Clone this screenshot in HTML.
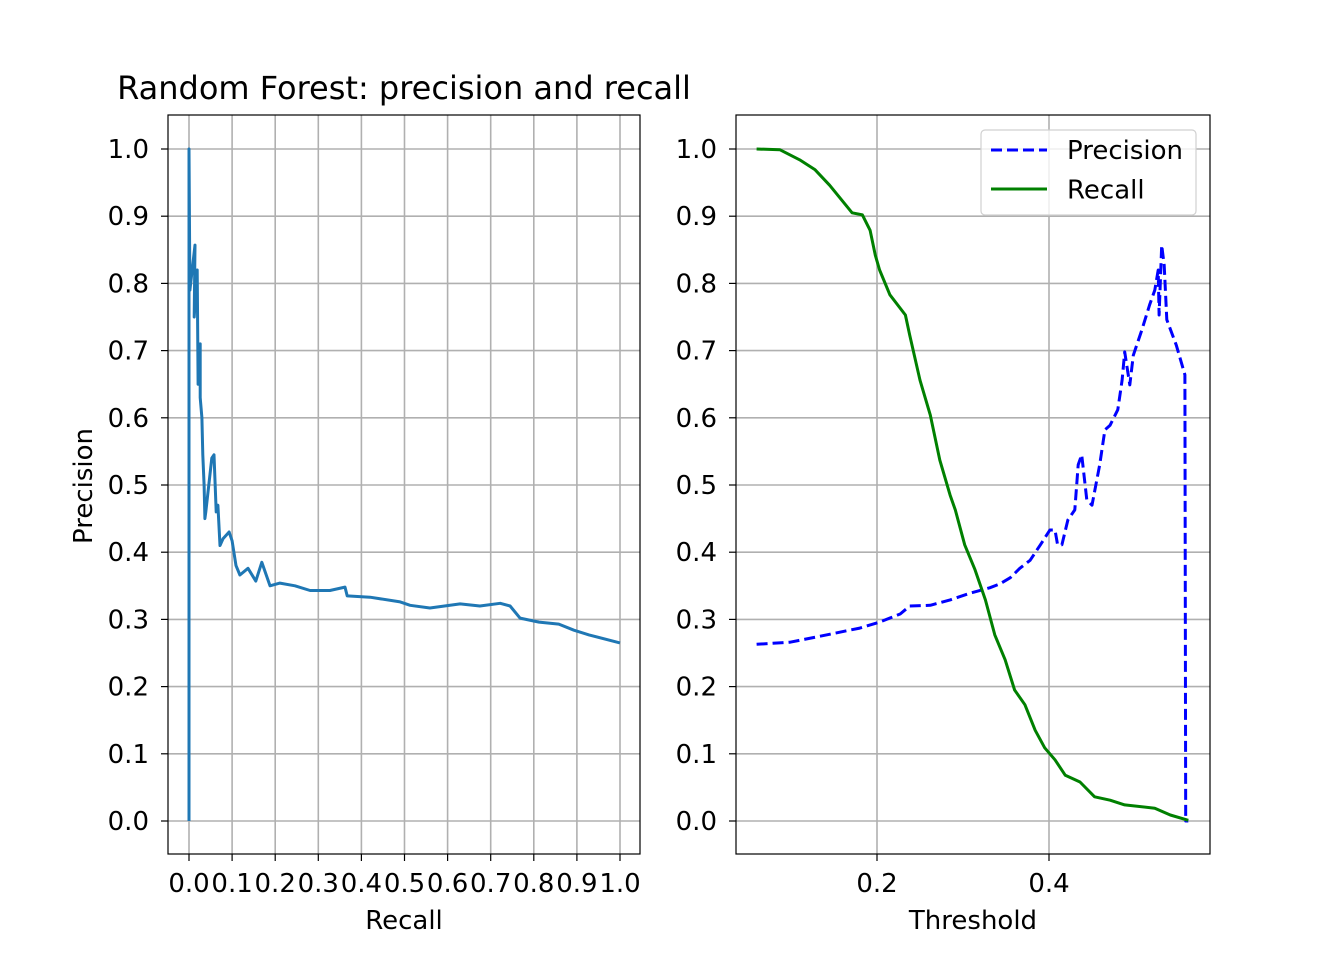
<!DOCTYPE html>
<html><head><meta charset="utf-8"><style>
html,body{margin:0;padding:0;background:#fff}
svg text{font-family:"DejaVu Sans","Liberation Sans",sans-serif;fill:#000}
</style></head><body>
<svg id="chart" width="1344" height="960" xmlns="http://www.w3.org/2000/svg">
<rect width="1344" height="960" fill="#fff"/>
<text x="404" y="99" font-size="32" text-anchor="middle">Random Forest: precision and recall</text>
<g id="left"></g>
<g id="right"></g>
</svg>
<script>
// Left panel data (recall, precision)
const prRecall = [0,0,0.002,0.014,0.012,0.019,0.021,0.026,0.026,0.030,0.032,0.035,0.037,0.039,0.053,0.058,0.063,0.067,0.072,0.079,0.093,0.100,0.109,0.118,0.137,0.155,0.169,0.188,0.211,0.246,0.281,0.327,0.362,0.367,0.420,0.490,0.513,0.559,0.629,0.675,0.722,0.745,0.768,0.812,0.858,0.893,0.928,1.0];
const prPrecision = [0,1.0,0.79,0.857,0.75,0.82,0.65,0.71,0.63,0.60,0.545,0.50,0.45,0.46,0.54,0.545,0.46,0.47,0.41,0.42,0.43,0.417,0.38,0.366,0.376,0.357,0.385,0.350,0.354,0.350,0.343,0.343,0.348,0.335,0.333,0.326,0.321,0.317,0.323,0.320,0.324,0.320,0.302,0.296,0.293,0.284,0.277,0.265];
// Right panel data
const recThreshold = [0.060,0.087,0.110,0.128,0.145,0.171,0.183,0.192,0.198,0.203,0.215,0.233,0.238,0.250,0.262,0.273,0.285,0.291,0.302,0.314,0.326,0.337,0.349,0.360,0.372,0.384,0.395,0.407,0.419,0.436,0.453,0.471,0.488,0.523,0.541,0.562];
const recValues = [1.000,0.999,0.984,0.969,0.946,0.905,0.902,0.879,0.842,0.820,0.783,0.753,0.723,0.656,0.604,0.537,0.485,0.463,0.411,0.374,0.329,0.277,0.240,0.195,0.173,0.135,0.109,0.091,0.068,0.058,0.036,0.031,0.024,0.019,0.009,0.001];
const precThreshold = [0.060,0.099,0.134,0.180,0.203,0.227,0.238,0.262,0.285,0.308,0.331,0.343,0.355,0.366,0.378,0.390,0.401,0.407,0.410,0.415,0.422,0.430,0.434,0.438,0.444,0.450,0.459,0.465,0.471,0.480,0.485,0.488,0.494,0.498,0.508,0.517,0.523,0.527,0.528,0.531,0.534,0.537,0.548,0.558,0.559,0.562];
const precValues = [0.263,0.266,0.275,0.287,0.296,0.308,0.320,0.321,0.329,0.339,0.347,0.353,0.362,0.376,0.388,0.411,0.433,0.433,0.411,0.411,0.448,0.463,0.530,0.545,0.478,0.470,0.530,0.582,0.589,0.612,0.656,0.698,0.649,0.693,0.731,0.768,0.790,0.820,0.753,0.857,0.827,0.746,0.708,0.664,0,0];
const yTicks = [0,0.1,0.2,0.3,0.4,0.5,0.6,0.7,0.8,0.9,1.0];
const leftXTicks = [0,0.1,0.2,0.3,0.4,0.5,0.6,0.7,0.8,0.9,1.0];
const rightXTicks = [0.2,0.4];

const NS="http://www.w3.org/2000/svg";
function mk(parent,tag,attrs){const e=document.createElementNS(NS,tag);for(const k in attrs)e.setAttribute(k,attrs[k]);parent.appendChild(e);return e;}
const yS = v => 821 - v*672;
const lx = v => 189 + v*431;
const rx = v => 705 + v*860;
const FS = 26;

function panel(g,x0,x1,xs,xticks,xlabel,prefix){
  for(const t of xticks){
    const gl=mk(g,'line',{x1:xs(t),x2:xs(t),y1:115,y2:854,stroke:'#b0b0b0','stroke-width':1.6});
    
    
    mk(g,'line',{x1:xs(t),x2:xs(t),y1:854,y2:861,stroke:'#000','stroke-width':1.2});
    const tx=mk(g,'text',{x:xs(t),y:892,'font-size':FS,'text-anchor':'middle'});
    tx.textContent=t.toFixed(1);
    
    
  }
  for(const t of yTicks){
    const gl=mk(g,'line',{x1:x0,x2:x1,y1:yS(t),y2:yS(t),stroke:'#b0b0b0','stroke-width':1.6});
    
    
    mk(g,'line',{x1:x0-7,x2:x0,y1:yS(t),y2:yS(t),stroke:'#000','stroke-width':1.2});
    const tx=mk(g,'text',{x:x0-19,y:yS(t)+9,'font-size':FS,'text-anchor':'end'});
    tx.textContent=t.toFixed(1);
    
    
  }
  const xl=mk(g,'text',{x:(x0+x1)/2,y:929,'font-size':FS,'text-anchor':'middle'});
  xl.textContent=xlabel;
  
  
}
function line(g,xsArr,ysArr,xs,attrs,name){
  const d=xsArr.map((v,i)=>(i?'L':'M')+xs(v).toFixed(1)+','+yS(ysArr[i]).toFixed(1)).join('');
  const p=mk(g,'path',Object.assign({d:d,fill:'none','stroke-linejoin':'round'},attrs));
  
  
}
const L=document.getElementById('left'), R=document.getElementById('right');
panel(L,168,640,lx,leftXTicks,'Recall','left-');
line(L,prRecall,prPrecision,lx,{stroke:'#1f77b4','stroke-width':3},'precision-recall-curve');
mk(L,'rect',{x:168,y:115,width:472,height:739,fill:'none',stroke:'#000','stroke-width':1.2});
const yl=mk(L,'text',{x:0,y:0,'font-size':FS,'text-anchor':'middle',transform:'translate(92,486) rotate(-90)'});
yl.textContent='Precision';



panel(R,736,1210,rx,rightXTicks,'Threshold','right-');
line(R,precThreshold,precValues,rx,{stroke:'#0000ff','stroke-width':3,'stroke-dasharray':'11,5'},'precision-line');
line(R,recThreshold,recValues,rx,{stroke:'#008000','stroke-width':3},'recall-line');
mk(R,'rect',{x:736,y:115,width:474,height:739,fill:'none',stroke:'#000','stroke-width':1.2});
// legend
const lg=mk(R,'g',{});


mk(lg,'rect',{x:981,y:130,width:215,height:85,rx:4,fill:'#fff','fill-opacity':0.8,stroke:'#d0d0d0','stroke-width':1.2});
mk(lg,'line',{x1:991,x2:1047,y1:150,y2:150,stroke:'#0000ff','stroke-width':3,'stroke-dasharray':'11,5'});
mk(lg,'line',{x1:991,x2:1047,y1:189,y2:189,stroke:'#008000','stroke-width':3});
const t1=mk(lg,'text',{x:1067,y:159,'font-size':FS});t1.textContent='Precision';


const t2=mk(lg,'text',{x:1067,y:198.5,'font-size':FS});t2.textContent='Recall';


</script>
</body></html>
